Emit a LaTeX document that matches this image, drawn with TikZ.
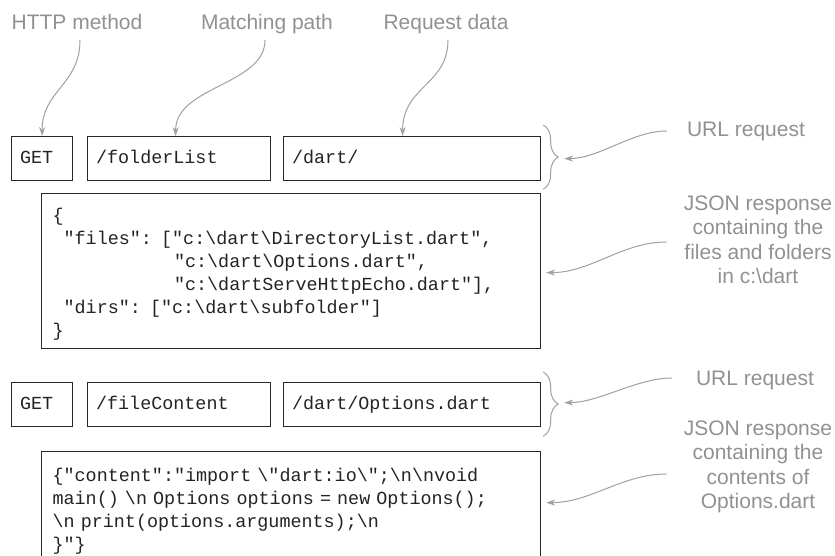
\documentclass[tikz,border=0pt]{standalone}
\usepackage{fontspec}
\setmainfont{Liberation Sans}
\newfontfamily\codefont{Liberation Mono}[Ligatures=TeXOff]
\usetikzlibrary{arrows.meta,decorations.pathreplacing}
\definecolor{labgray}{RGB}{145,145,145}
\definecolor{arrgray}{RGB}{160,160,160}
\definecolor{boxline}{RGB}{40,40,40}
\definecolor{codetext}{RGB}{35,35,35}
\newcommand{\bsl}{\textbackslash}
\begin{document}
\begin{tikzpicture}[x=1pt,y=-1pt,
  lab/.style={text=labgray, font=\fontsize{21}{24.5}\selectfont, inner sep=0pt, align=center},
  cbox/.style={draw=boxline, text=codetext, line width=1.2pt, font=\codefont\fontsize{18.4}{23}\selectfont,
    anchor=north west, inner xsep=8.5pt, inner ysep=0pt, align=left, minimum height=44pt,
    text height=14pt, text depth=4pt},
  jbox/.style={draw=boxline, text=codetext, line width=1.2pt, font=\codefont\fontsize{18.4}{23}\selectfont,
    anchor=north west, inner xsep=11pt, inner ysep=0pt, text width=477pt, align=left},
  conn/.style={draw=arrgray, line width=1pt, -{Stealth[length=9pt,width=6pt]}},
  bracestyle/.style={draw=arrgray, line width=1pt, decorate, decoration={brace, amplitude=15pt}},
]
\useasboundingbox (0,0) rectangle (835,556);
\clip (0,0) rectangle (835,556);

% top labels
\node[lab, anchor=base] (httplab) at (77,30) {HTTP method};
\node[lab, anchor=base] (matchlab) at (267,30) {Matching path};
\node[lab, anchor=base] (reqlab) at (446,30) {Request data};

% row 1
\node[cbox, text width=44pt] (get1) at (11,136) {GET};
\node[cbox, text width=166pt] (path1) at (87,136) {/folderList};
\node[cbox, text width=240pt] (data1) at (283,136) {/dart/};

% json 1
\node[jbox, minimum height=155pt] (json1) at (41,193) {\rule{0pt}{20pt}\{\\
\hphantom{0}"files": ["c:\bsl dart\bsl DirectoryList.dart",\\
\hphantom{00000000000}"c:\bsl dart\bsl Options.dart",\\
\hphantom{00000000000}"c:\bsl dartServeHttpEcho.dart"],\\
\hphantom{0}"dirs": ["c:\bsl dart\bsl subfolder"]\\
\}};

% row 2
\node[cbox, text width=44pt] (get2) at (11,382) {GET};
\node[cbox, text width=166pt] (path2) at (87,382) {/fileContent};
\node[cbox, text width=240pt] (data2) at (283,382) {/dart/Options.dart};

% json 2
\node[jbox, minimum height=120pt] (json2) at (41,451) {\{"content":"import \bsl"dart:io\bsl";\bsl n\bsl nvoid\\
main() \bsl n Options options = new Options();\\
\bsl n print(options.arguments);\bsl n\\
\}"\}};

% right labels
\node[lab] (url1) at (746,131) {URL request};
\node[lab] (resp1) at (758,240) {JSON response\\containing the\\files and folders\\in c:\bsl dart};
\node[lab] (url2) at (755,380) {URL request};
\node[lab] (resp2) at (758,467) {JSON response\\containing the\\contents of\\Options.dart};

% braces
\draw[bracestyle] ([xshift=2pt,yshift=11pt]data1.north east) -- ([xshift=2pt,yshift=-8pt]data1.south east);
\draw[bracestyle] ([xshift=2pt,yshift=10pt]data2.north east) -- ([xshift=2pt,yshift=-9pt]data2.south east);

% top arrows
\draw[conn] ([xshift=3pt,yshift=-10pt]httplab.base) .. controls +(0,45) and +(0,-46) .. (get1.north);
\draw[conn] ([xshift=-2pt,yshift=-10pt]matchlab.base) .. controls +(0,45) and +(0,-50) .. ([xshift=-3.5pt]path1.north);
\draw[conn] ([xshift=2pt,yshift=-10pt]reqlab.base) .. controls +(0,45) and +(0,-50) .. ([xshift=-9.5pt]data1.north);

% right arrows
\draw[conn] ([xshift=-20pt]url1.west) .. controls +(-35,0) and +(35,0) .. ([xshift=23pt]data1.east);
\draw[conn] ([xshift=-17pt,yshift=-2pt]resp1.west) .. controls +(-45,0) and +(45,0) .. ([xshift=5pt,yshift=-1.5pt]json1.east);
\draw[conn] ([xshift=-24pt,yshift=2pt]url2.west) .. controls +(-35,0) and +(35,0) .. ([xshift=23pt,yshift=2pt]data2.east);
\draw[conn] ([xshift=-17pt,yshift=-7pt]resp2.west) .. controls +(-45,0) and +(45,0) .. ([xshift=5pt,yshift=9pt]json2.east);
\end{tikzpicture}
\end{document}
